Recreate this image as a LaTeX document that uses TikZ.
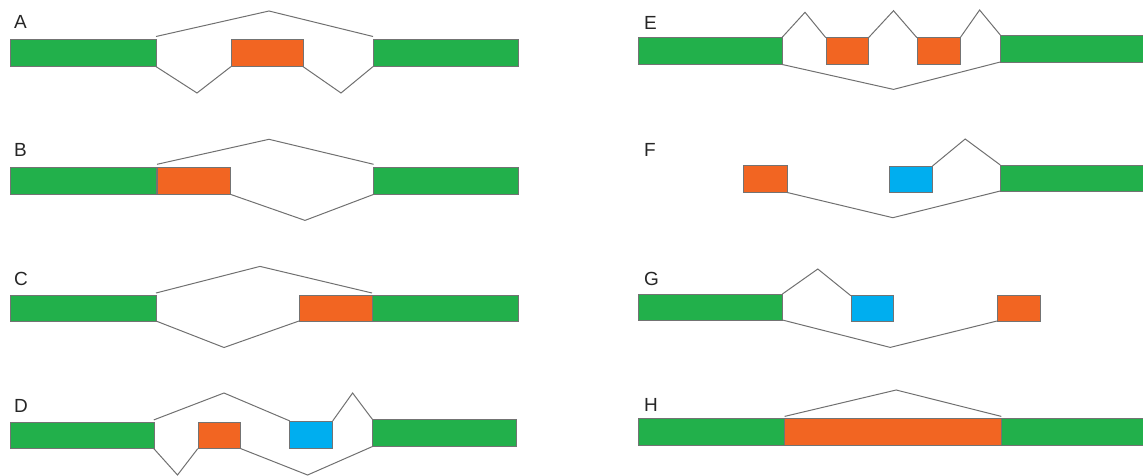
\documentclass[tikz,border=0pt]{standalone}
\usepackage{fontspec}
\setmainfont{Liberation Sans}
\definecolor{exgreen}{HTML}{22B04B}
\definecolor{exorange}{HTML}{F26522}
\definecolor{exblue}{HTML}{00AEEF}
\definecolor{intron}{HTML}{707070}
\newcommand{\exonbox}[6]{\node[exon,fill=#2,minimum width={(#5-#3)*1pt},minimum height={(#6-#4)*1pt},anchor=north west] (#1) at (#3,#4) {};}
\begin{document}
\begin{tikzpicture}[x=1pt,y=-1pt,
  exon/.style={draw=black!55,line width=0.6pt,inner sep=0pt,outer sep=0pt},
  junc/.style={draw=intron,line width=1pt,line join=miter},
  panel/.style={anchor=base west,font=\fontsize{19}{19}\selectfont,text=black!85,inner sep=0pt}]
\useasboundingbox (0,0) rectangle (1143,476);
% ---------- A ----------
\node[panel] (lA) at (14,29) {A};
\exonbox{AL}{exgreen}{10}{39.5}{156}{66.6}
\exonbox{AO}{exorange}{231}{39.5}{303}{66.6}
\exonbox{AR}{exgreen}{373}{39.5}{518}{66.6}
\coordinate (pA1) at (269,11);
\coordinate (pA2) at (197,93);
\coordinate (pA3) at (341,93);
\draw[junc] ([yshift=3pt]AL.north east) -- (pA1) -- ([yshift=3pt]AR.north west);
\draw[junc] (AL.south east) -- (pA2) -- (AO.south west);
\draw[junc] (AO.south east) -- (pA3) -- (AR.south west);
% ---------- B ----------
\node[panel] (lB) at (14,157) {B};
\exonbox{BL}{exgreen}{10}{167.3}{156}{194.4}
\exonbox{BO}{exorange}{157}{167.3}{230.6}{194.4}
\exonbox{BR}{exgreen}{373.6}{167.3}{518}{194.4}
\coordinate (pB1) at (269,139.3);
\coordinate (pB2) at (305,220.4);
\draw[junc] ([yshift=3pt]BO.north west) -- (pB1) -- ([yshift=3pt]BR.north west);
\draw[junc] (BO.south east) -- (pB2) -- (BR.south west);
% ---------- C ----------
\node[panel] (lC) at (14,285.6) {C};
\exonbox{CL}{exgreen}{10}{295}{156}{321}
\exonbox{CO}{exorange}{299}{295}{372}{321}
\exonbox{CR}{exgreen}{372}{295}{518}{321}
\coordinate (pC1) at (260,266.4);
\coordinate (pC2) at (224,347.5);
\draw[junc] ([yshift=2pt]CL.north east) -- (pC1) -- ([yshift=2pt]CR.north west);
\draw[junc] (CL.south east) -- (pC2) -- (CO.south west);
% ---------- D ----------
\node[panel] (lD) at (14,412.4) {D};
\exonbox{DL}{exgreen}{10}{421.9}{153.8}{448.6}
\exonbox{DO}{exorange}{197.8}{421.9}{240.7}{448.6}
\exonbox{DB}{exblue}{289.7}{420.9}{332.7}{448}
\exonbox{DR}{exgreen}{372.5}{419.5}{516}{446.5}
\coordinate (pD1) at (224,393);
\coordinate (pD2) at (352.6,393);
\coordinate (pD3) at (177.5,475);
\coordinate (pD4) at (307.6,475);
\draw[junc] ([yshift=2pt]DL.north east) -- (pD1) -- (DB.north west);
\draw[junc] (DB.north east) -- (pD2) -- (DR.north west);
\draw[junc] (DL.south east) -- (pD3) -- (DO.south west);
\draw[junc] (DO.south east) -- (pD4) -- (DR.south west);
% ---------- E ----------
\node[panel] (lE) at (644,30) {E};
\exonbox{EL}{exgreen}{638.3}{37.7}{781.8}{64.4}
\exonbox{EO1}{exorange}{825.8}{37.7}{868.5}{64.4}
\exonbox{EO2}{exorange}{916.9}{37.7}{960.2}{64.4}
\exonbox{ER}{exgreen}{1000.3}{35}{1145}{62}
\coordinate (pE1) at (805,12.3);
\coordinate (pE2) at (893.5,10.7);
\coordinate (pE3) at (979.6,10);
\coordinate (pE4) at (893.5,89.4);
\draw[junc] (EL.north east) -- (pE1) -- (EO1.north west);
\draw[junc] (EO1.north east) -- (pE2) -- (EO2.north west);
\draw[junc] (EO2.north east) -- (pE3) -- (ER.north west);
\draw[junc] (EL.south east) -- (pE4) -- (ER.south west);
% ---------- F ----------
\node[panel] (lF) at (644,156.7) {F};
\exonbox{FO}{exorange}{743.4}{165.7}{786.8}{192.4}
\exonbox{FB}{exblue}{889.2}{166}{932.5}{192.7}
\exonbox{FR}{exgreen}{1000.3}{165}{1145}{191}
\coordinate (pF1) at (965.2,139);
\coordinate (pF2) at (892.8,217.7);
\draw[junc] (FB.north east) -- (pF1) -- (FR.north west);
\draw[junc] (FO.south east) -- (pF2) -- (FR.south west);
% ---------- G ----------
\node[panel] (lG) at (644,285.7) {G};
\exonbox{GL}{exgreen}{638.3}{294}{782.4}{320}
\exonbox{GB}{exblue}{850.8}{295.7}{893.5}{321.7}
\exonbox{GO}{exorange}{997}{295.4}{1040.3}{321}
\coordinate (pG1) at (817.8,269);
\coordinate (pG2) at (890.2,347.4);
\draw[junc] (GL.north east) -- (pG1) -- (GB.north west);
\draw[junc] (GL.south east) -- (pG2) -- (GO.south west);
% ---------- H ----------
\node[panel] (lH) at (644,411.2) {H};
\exonbox{HL}{exgreen}{638.3}{418.4}{784.6}{445}
\exonbox{HO}{exorange}{784.6}{418.4}{1001.3}{445}
\exonbox{HR}{exgreen}{1001.3}{418.4}{1145}{445}
\coordinate (pH1) at (896.2,390);
\draw[junc] ([yshift=2pt]HO.north west) -- (pH1) -- ([yshift=2pt]HO.north east);
\end{tikzpicture}
\end{document}
